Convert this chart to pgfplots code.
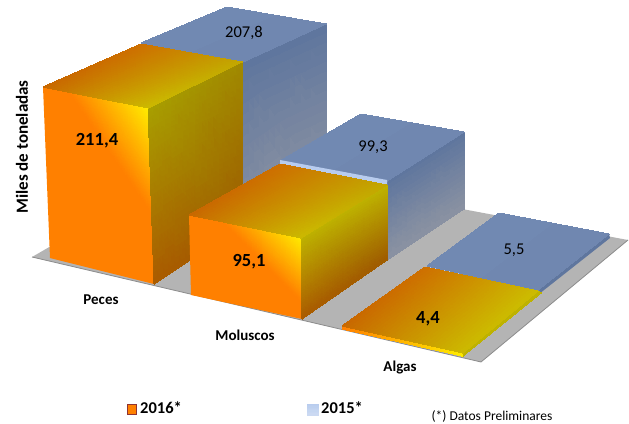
\documentclass[border=0pt]{standalone}
\usepackage{fontspec}
\setmainfont{Carlito}
\usepackage{pgfplots}
\usepgfplotslibrary{patchplots}
\pgfplotsset{compat=1.18}
\definecolor{floorc}{HTML}{B4B4B4}
\definecolor{floore}{HTML}{8C8C8C}
\definecolor{ora}{HTML}{FF8000}
\definecolor{yel}{HTML}{FFEC00}
\definecolor{topa}{HTML}{C86800}
\definecolor{topb}{HTML}{CE7000}
\definecolor{topc}{HTML}{C2A800}
\definecolor{topd}{HTML}{CCBA00}
\definecolor{sida}{HTML}{A89E00}
\definecolor{sidb}{HTML}{A08800}
\definecolor{sidc}{HTML}{9E5A00}
\definecolor{sidd}{HTML}{AA5A00}
\definecolor{sidf}{HTML}{BEB200}
\definecolor{bltop}{HTML}{7189B2}
\definecolor{bltopb}{HTML}{6F86AE}
\definecolor{blsa}{HTML}{5F769E}
\definecolor{blsb}{HTML}{8C93A2}
\definecolor{blstrip}{HTML}{B8CCEE}
\pgfplotsset{face/.style={patch,patch type=bilinear,shader=interp,mesh/color input=explicit},
  tri/.style={patch,patch type=triangle,shader=interp,mesh/color input=explicit}}
\begin{document}
\begin{tikzpicture}
\begin{axis}[
  width=629bp,height=424bp,scale only axis,
  xmin=0,xmax=629,ymin=0,ymax=424,y dir=reverse,
  hide axis,clip=false]
% floor
\addplot[fill=floorc,draw=none] coordinates {(32,257)(481,362)(628,240)(200,160)} --cycle;
\addplot[draw=floore,line width=0.8pt] coordinates {(32,257)(481,362)(628,240)};
% Peces 2015
\addplot[tri] coordinates {(243,62)[color=blsa] (326,24)[color=blsa] (326,178)[color=blsb]
  (243,62)[color=blsa] (326,178)[color=blsb] (243,235)[color=blsb]};
\addplot[face] coordinates {(141,43)[color=bltop] (227,7)[color=bltop] (326,24)[color=bltopb] (243,62)[color=bltopb]};
% Peces 2016
\addplot[fill=ora,draw=none] coordinates {(43,87)(69,92)(152,214)(154,284)(50,258)} --cycle;
\addplot[tri] coordinates {(69,92)[color=ora] (148,108)[color=yel] (152,214)[color=ora]};
\addplot[tri] coordinates {(148,108)[color=sida] (242,62)[color=sidb] (243,225)[color=sidc]
  (148,108)[color=sida] (243,225)[color=sidc] (154,284)[color=sidd]};
\addplot[face] coordinates {(43,87)[color=topa] (141,44)[color=topb] (242,62)[color=topc] (148,108)[color=topd]};
% Moluscos 2015
\addplot[tri] coordinates {(387,181)[color=blsa] (464,132)[color=blsa] (464,209)[color=blsb]
  (387,181)[color=blsa] (464,209)[color=blsb] (387,260)[color=blsb]};
\addplot[face] coordinates {(280,161)[color=bltop] (361,114)[color=bltop] (464,132)[color=bltopb] (387,181)[color=bltopb]};
\addplot[fill=blstrip,draw=none] coordinates {(280,160)(387,180)(387,186)(280,165)} --cycle;
% Moluscos 2016
\addplot[fill=ora,draw=none] coordinates {(189,215)(223,222)(302,303)(302,319)(191,295)} --cycle;
\addplot[tri] coordinates {(223,222)[color=ora] (301,238)[color=yel] (302,303)[color=ora]};
\addplot[tri] coordinates {(301,238)[color=sidf] (387,185)[color=sidf] (387,260)[color=sidc]
  (301,238)[color=sidf] (387,260)[color=sidc] (302,319)[color=sidd]};
\addplot[face] coordinates {(189,215)[color=topa] (280,164)[color=topb] (387,185)[color=topc] (301,238)[color=topd]};
% Algas 2015
\addplot[fill=blsa,draw=none] coordinates {(609,234)(610,238)(539,294)(538,290)} --cycle;
\addplot[fill=blstrip,draw=none] coordinates {(427,265)(538,289)(538,292)(427,268)} --cycle;
\addplot[face] coordinates {(427,266)[color=bltop] (499,213)[color=bltop] (609,234)[color=bltopb] (538,290)[color=bltopb]};
% Algas 2016
\addplot[face] coordinates {(342,326)[color=ora] (463,353)[color=yel] (462,356)[color=yel] (342,329)[color=ora]};
\addplot[face] coordinates {(538,291)[color=sidf] (541,293)[color=sidf] (463,356)[color=sidf] (463,353)[color=sidf]};
\addplot[face] coordinates {(342,326)[color=topa] (425,267)[color=topb] (538,291)[color=yel!80!black] (463,353)[color=topd]};
% legend swatches
\addplot[fill=ora,draw=red!45!black!80,line width=0.7pt] coordinates {(127,404)(136,404)(136,414)(127,414)} --cycle;
\addplot[face] coordinates {(307,404)[color=blstrip] (318,404)[color=blstrip] (318,415)[color=blstrip!70!white] (307,415)[color=blstrip!70!white]};
% labels
\node[font=\fontsize{18.5bp}{20bp}\selectfont\bfseries] at (axis cs:97,140.5) {211,4};
\node[font=\fontsize{18.5bp}{20bp}\selectfont\bfseries] at (axis cs:249,261.5) {95,1};
\node[font=\fontsize{18.5bp}{20bp}\selectfont\bfseries] at (axis cs:428,319) {4,4};
\node[font=\fontsize{16.5bp}{18bp}\selectfont] at (axis cs:244,33) {207,8};
\node[font=\fontsize{16.5bp}{18bp}\selectfont] at (axis cs:373,147.5) {99,3};
\node[font=\fontsize{16.5bp}{18bp}\selectfont] at (axis cs:514,250) {5,5};
\node[font=\fontsize{15bp}{16bp}\selectfont\bfseries] at (axis cs:101,300) {Peces};
\node[font=\fontsize{15bp}{16bp}\selectfont\bfseries] at (axis cs:245,335) {Moluscos};
\node[font=\fontsize{15bp}{16bp}\selectfont\bfseries] at (axis cs:400,368) {Algas};
\node[font=\fontsize{17bp}{18bp}\selectfont\bfseries,rotate=90] at (axis cs:22,147) {Miles de toneladas};
\node[font=\fontsize{16.5bp}{18bp}\selectfont\bfseries] at (axis cs:161,408) {2016*};
\node[font=\fontsize{16.5bp}{18bp}\selectfont\bfseries] at (axis cs:342,408) {2015*};
\node[font=\fontsize{13.5bp}{14bp}\selectfont] at (axis cs:492,416) {(*) Datos Preliminares};
\end{axis}
\pgfresetboundingbox
\path[use as bounding box] (0,0) rectangle (629bp,424bp);
\end{tikzpicture}
\end{document}
